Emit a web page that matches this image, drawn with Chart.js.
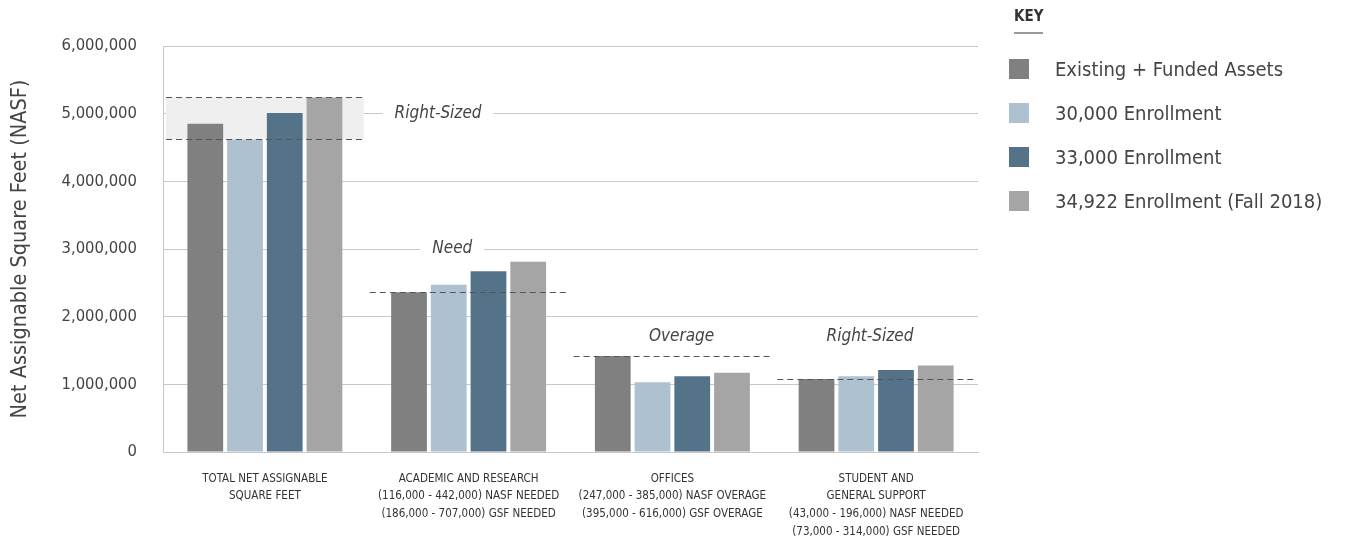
<!DOCTYPE html>
<html>
<head>
<meta charset="utf-8">
<script src="https://cdn.jsdelivr.net/npm/chart.js@4.4.1/dist/chart.umd.min.js"></script>
<style>
  body { margin: 0; background: #fff; font-family: 'DejaVu Sans Condensed', Roboto, sans-serif; }
  #wrap { position: relative; width: 1347px; height: 546px; }
  #key { position: absolute; left: 1009px; top: 7px; color: #444; }
  #key .title { font-weight: bold; font-size: 15px; color: #333; margin-left: 5px; padding-bottom: 7px; border-bottom: 2px solid #999; width: 29px; margin-bottom: 13px; }
  #key .item { display: flex; align-items: center; height: 44px; font-size: 20px; white-space: nowrap; }
  #key .box { width: 20px; height: 20px; margin-right: 26px; }
</style>
</head>
<body>
<div id="wrap">
  <canvas id="nasfChart"></canvas>
  <div id="key"><div class="title">KEY</div></div>
</div>
<script>
var categories = [
    ['TOTAL NET ASSIGNABLE', 'SQUARE FEET'],
    ['ACADEMIC AND RESEARCH', '(116,000 - 442,000) NASF NEEDED', '(186,000 - 707,000) GSF NEEDED'],
    ['OFFICES', '(247,000 - 385,000) NASF OVERAGE', '(395,000 - 616,000) GSF OVERAGE'],
    ['STUDENT AND', 'GENERAL SUPPORT', '(43,000 - 196,000) NASF NEEDED', '(73,000 - 314,000) GSF NEEDED']
];
var seriesNames = ['Existing + Funded Assets', '30,000 Enrollment', '33,000 Enrollment', '34,922 Enrollment (Fall 2018)'];
var existing = [4850000, 2360000, 1420000, 1080000];
var enroll30000 = [4620000, 2470000, 1030000, 1120000];
var enroll33000 = [5010000, 2670000, 1120000, 1210000];
var enroll34922 = [5240000, 2810000, 1170000, 1280000];
var yTicks = [0, 1000000, 2000000, 3000000, 4000000, 5000000, 6000000];

// reference lines per category (band where a high value is given)
var noteLow = [4620000, 2360000, 1420000, 1080000];
var noteHigh = [5240000, null, null, null];
var noteText = ['Right-Sized', 'Need', 'Overage', 'Right-Sized'];

var colors = ['#808080', '#adc1d0', '#557388', '#a5a5a5'];
var FONT = "'DejaVu Sans Condensed', Roboto, sans-serif";

// label placement: offset in category units, height in axis units
var notePlace = [
    { dx: 0.85, y: 5000000 },
    { dx: -0.08, y: 3000000 },
    { dx: 0.045, y: 1700000 },
    { dx: -0.03, y: 1700000 }
];

var notesPlugin = {
    id: 'notes',
    beforeDatasetsDraw: function(chart) {
        var c = chart.ctx, x = chart.scales.x, y = chart.scales.y;
        var half = (x.getPixelForValue(1) - x.getPixelForValue(0)) * 0.485;
        c.save();
        c.fillStyle = '#efefef';
        for (var i = 0; i < noteLow.length; i++) {
            if (noteHigh[i] == null) continue;
            var cx = x.getPixelForValue(i);
            var top = y.getPixelForValue(noteHigh[i]);
            c.fillRect(cx - half, top, half * 2, y.getPixelForValue(noteLow[i]) - top);
        }
        c.restore();
    },
    afterDatasetsDraw: function(chart) {
        var c = chart.ctx, x = chart.scales.x, y = chart.scales.y;
        var step = x.getPixelForValue(1) - x.getPixelForValue(0);
        var half = step * 0.485;
        c.save();
        c.strokeStyle = '#555';
        c.lineWidth = 1.2;
        c.setLineDash([6, 4]);
        for (var i = 0; i < noteLow.length; i++) {
            var cx = x.getPixelForValue(i);
            [noteLow[i], noteHigh[i]].forEach(function(v) {
                if (v == null) return;
                var py = Math.round(y.getPixelForValue(v)) + 0.5;
                c.beginPath();
                c.moveTo(cx - half, py);
                c.lineTo(cx + half, py);
                c.stroke();
            });
        }
        c.setLineDash([]);
        c.font = 'italic 17px ' + FONT;
        c.textAlign = 'center';
        c.textBaseline = 'middle';
        for (var j = 0; j < noteText.length; j++) {
            var lx = x.getPixelForValue(j) + notePlace[j].dx * step;
            var ly = y.getPixelForValue(notePlace[j].y);
            var w = c.measureText(noteText[j]).width;
            c.fillStyle = '#fff';
            c.fillRect(lx - w / 2 - 12, ly - 10, w + 24, 20);
            c.fillStyle = '#444';
            c.fillText(noteText[j], lx, ly);
        }
        c.restore();
    }
};

var ctx = document.getElementById('nasfChart').getContext('2d');
var chart = new Chart(ctx, {
    type: 'bar',
    data: {
        labels: categories,
        datasets: [existing, enroll30000, enroll33000, enroll34922].map(function(d, i) {
            return {
                label: seriesNames[i],
                data: d,
                backgroundColor: colors[i],
                barPercentage: 0.9,
                categoryPercentage: 0.78
            };
        })
    },
    options: {
        responsive: true,
        maintainAspectRatio: false,
        animation: false,
        layout: { padding: { left: 8, right: 369, top: 46, bottom: 0 } },
        plugins: {
            legend: { display: false },
            tooltip: { enabled: false }
        },
        scales: {
            x: {
                grid: { display: false },
                border: { color: '#c8c8c8' },
                afterFit: function(scale) { scale.height = 94; },
                ticks: {
                    autoSkip: false,
                    maxRotation: 0,
                    padding: 10,
                    color: '#333',
                    font: { family: FONT, size: 11.5, lineHeight: 1.53 }
                }
            },
            y: {
                min: 0,
                max: 6000000,
                afterFit: function(scale) { scale.width = 155; },
                afterBuildTicks: function(scale) {
                    scale.ticks = yTicks.map(function(v) { return { value: v }; });
                },
                grid: { color: '#c8c8c8', drawTicks: false },
                border: { color: '#c8c8c8' },
                title: {
                    display: true,
                    text: 'Net Assignable Square Feet (NASF)',
                    color: '#444',
                    font: { family: FONT, size: 21.5 },
                    padding: { top: 0, bottom: 0 }
                },
                ticks: {
                    padding: 26,
                    color: '#444',
                    font: { family: FONT, size: 16.5 },
                    callback: function(v) { return v.toLocaleString('en-US'); }
                }
            }
        }
    },
    plugins: [notesPlugin]
});

// key built from the chart's datasets
var key = document.getElementById('key');
chart.data.datasets.forEach(function(ds) {
    var row = document.createElement('div');
    row.className = 'item';
    var box = document.createElement('span');
    box.className = 'box';
    box.style.background = ds.backgroundColor;
    row.appendChild(box);
    row.appendChild(document.createTextNode(ds.label));
    key.appendChild(row);
});
</script>
</body>
</html>
